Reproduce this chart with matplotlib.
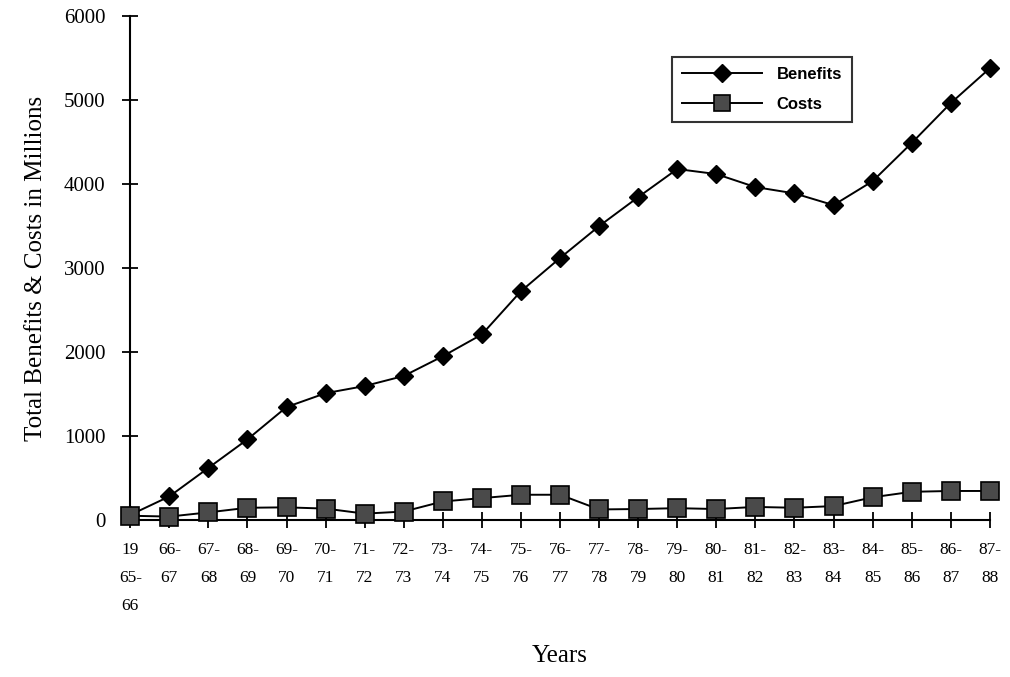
import matplotlib.pyplot as plt

years = ["19\n65-\n66", "66-\n67", "67-\n68", "68-\n69", "69-\n70", "70-\n71",
         "71-\n72", "72-\n73", "73-\n74", "74-\n75", "75-\n76", "76-\n77",
         "77-\n78", "78-\n79", "79-\n80", "80-\n81", "81-\n82", "82-\n83",
         "83-\n84", "84-\n85", "85-\n86", "86-\n87", "87-\n88"]
benefits = [60, 280, 620, 960, 1345, 1510, 1595, 1715, 1950, 2210, 2725, 3120,
            3500, 3845, 4180, 4120, 3965, 3890, 3750, 4035, 4490, 4965, 5380]
costs = [50, 40, 90, 145, 150, 135, 75, 100, 220, 260, 300, 300,
         125, 130, 140, 130, 155, 145, 165, 270, 335, 345, 345]

x = list(range(len(years)))

fig = plt.figure(figsize=(10.1, 6.77), dpi=100)
ax = fig.add_axes([0.129, 0.232, 0.851, 0.744])

ax.plot(x, benefits, color="black", lw=1.4, marker="D", ms=9,
        mfc="black", mec="black", label="Benefits", zorder=3, clip_on=False)
ax.plot(x, costs, color="black", lw=1.4, marker="s", ms=13,
        mfc="#4a4a4a", mec="black", mew=1.2, label="Costs", zorder=4,
        clip_on=False)

ax.set_xlim(0, len(years) - 1)
ax.set_ylim(0, 6000)
ax.set_yticks(range(0, 6001, 1000))
ax.set_xticks(x)
ax.set_xticklabels(years, family="Liberation Serif", fontsize=12.5,
                   va="top", linespacing=2.0)

for s in ["top", "right"]:
    ax.spines[s].set_visible(False)
ax.spines["left"].set_linewidth(1.5)
ax.spines["bottom"].set_linewidth(1.5)
ax.tick_params(axis="both", direction="inout", length=12, width=1.3)
ax.tick_params(axis="x", pad=10)
ax.tick_params(axis="y", pad=12)
for lab in ax.get_yticklabels():
    lab.set_family("Liberation Serif")
    lab.set_fontsize(15)

ax.set_ylabel("Total Benefits & Costs in Millions", family="Liberation Serif",
              fontsize=18, labelpad=12)
ax.set_xlabel("Years", family="Liberation Serif", fontsize=18, labelpad=22)

leg = ax.legend(loc="upper left", bbox_to_anchor=(0.62, 0.935), frameon=True,
                fancybox=False, edgecolor="black", handlelength=4.8,
                prop={"family": "Liberation Sans", "weight": "bold", "size": 12},
                borderpad=0.6, labelspacing=0.9, handletextpad=0.9)
leg.get_frame().set_linewidth(1.5)
leg.legend_handles[0].set_markersize(9)
leg.legend_handles[1].set_markersize(11)

fig.savefig("out.png", dpi=100)
